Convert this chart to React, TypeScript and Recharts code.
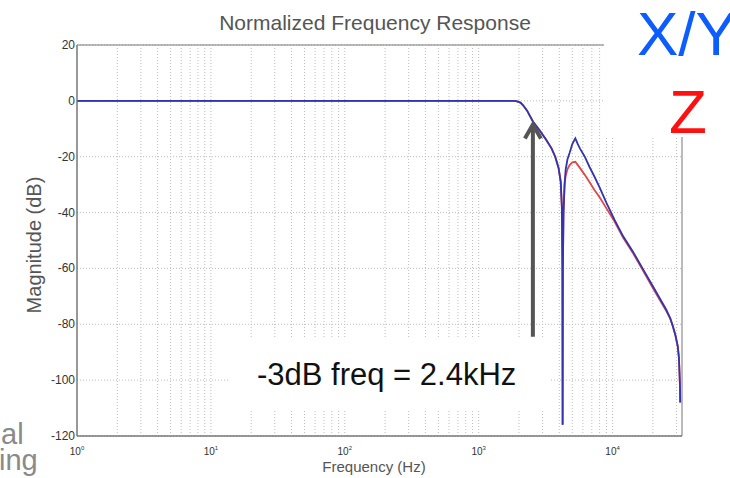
import React from "react";
import {
  LineChart,
  Line,
  XAxis,
  YAxis,
  CartesianGrid,
  ReferenceLine,
  ReferenceArea,
} from "recharts";

// frequency (Hz) sample points
const freqs = [
  1, 1800, 1910, 2050, 2140, 2300, 2540, 2850, 3200, 3500, 3730, 3950, 4100, 4180, 4220,
  4236, 4255, 4300, 4380, 4460, 4600, 4780, 5000, 5270, 5500, 5700, 6200, 6700, 7300, 8000,
  9000, 10350, 12000, 14200, 17000, 20000, 23000, 25200, 27000, 28200, 29500, 30700, 31300,
  31600, 31900, 32000,
];

// X/Y response (blue), dB
const xyMag = [
  0, 0, -0.1, -0.6, -1.5, -3.5, -7.4, -10.5, -14, -17, -20, -24, -29, -38, -60,
  -116, -60, -40, -30, -24.7, -21, -18.6, -15.5, -13.4, -15.5, -17, -20, -23.5, -27, -31,
  -36.5, -42.6, -48.5, -54, -60.5, -66.4, -71.5, -74.8, -78, -80.7, -84, -88, -92,
  -97, -103, -108,
];

// Z response (red), dB
const zMag = [
  0, 0, -0.1, -0.6, -1.5, -3.5, -7.4, -10.5, -14, -17, -20, -24, -29, -38, -60,
  -116, -60, -40, -30, -27, -24.5, -23, -22, -21.8, -23, -24, -26.5, -29, -31.8, -34.5,
  -38.5, -43.2, -49, -54.5, -61, -67, -72, -75.3, -78, -80.7, -84, -88, -92,
  -97, -103, -108,
];

const decadeTicks = [1, 10, 100, 1000, 10000];
const minorFreqs = [
  2, 3, 4, 5, 6, 7, 8, 9,
  20, 30, 40, 50, 60, 70, 80, 90,
  200, 300, 400, 500, 600, 700, 800, 900,
  2000, 3000, 4000, 5000, 6000, 7000, 8000, 9000,
  20000, 30000,
];
const magTicks = [20, 0, -20, -40, -60, -80, -100, -120];
const cutoffFreq = 2540;

const data = freqs.map((f, i) => ({ f, xy: xyMag[i], z: zMag[i] }));

const FONT = "'Liberation Sans', Arial, sans-serif";

const FreqTick = (props: any) => {
  const { x, y, payload } = props;
  const exp = Math.round(Math.log10(payload.value));
  return (
    <text x={x} y={y + 11} textAnchor="middle" fontSize={10} fill="#333" fontFamily={FONT}>
      10
      <tspan dy={-5} fontSize={6}>
        {exp}
      </tspan>
    </text>
  );
};

const MagTick = (props: any) => {
  const { x, y, payload } = props;
  return (
    <text x={x + 6} y={y + 4} textAnchor="end" fontSize={12} fill="#333" fontFamily={FONT}>
      {payload.value}
    </text>
  );
};

const Arrow = (props: any) => {
  const { x1, y1, x2, y2 } = props;
  return (
    <g>
      <line x1={x1} y1={y1} x2={x2} y2={y2 + 2} stroke="#555" strokeWidth={4} />
      <polyline
        points={`${x2 - 8},${y2 + 14} ${x2},${y2} ${x2 + 8},${y2 + 14}`}
        fill="none"
        stroke="#555"
        strokeWidth={4}
      />
    </g>
  );
};

export default function App() {
  return (
    <div style={{ position: "absolute", left: 0, top: 0, width: 730, height: 478, background: "#fff" }}>
      <LineChart
        width={730}
        height={478}
        data={data}
        margin={{ top: 45, right: 48, bottom: 12, left: 37 }}
      >
        <CartesianGrid stroke="#bdbdbd" strokeDasharray="1 2" vertical={false} />
        {decadeTicks.concat(minorFreqs).map((f) => (
          <ReferenceLine key={f} x={f} stroke="#bdbdbd" strokeDasharray="1 2" />
        ))}
        <XAxis
          dataKey="f"
          type="number"
          scale="log"
          domain={[1, 33000]}
          ticks={decadeTicks}
          tick={<FreqTick />}
          tickLine={false}
          axisLine={{ stroke: "#777" }}
          height={30}
          allowDataOverflow
        />
        <YAxis
          type="number"
          domain={[-120, 20]}
          ticks={magTicks}
          tick={<MagTick />}
          tickLine={false}
          axisLine={{ stroke: "#777" }}
          width={40}
          allowDataOverflow
        />
        <ReferenceArea x1={1} x2={33000} y1={-120} y2={20} fill="none" stroke="#777" />
        <Line
          type="linear"
          dataKey="z"
          stroke="#e04848"
          strokeWidth={1.8}
          dot={false}
          isAnimationActive={false}
        />
        <Line
          type="linear"
          dataKey="xy"
          stroke="#3434b0"
          strokeWidth={1.8}
          dot={false}
          isAnimationActive={false}
        />
        <ReferenceLine
          segment={[
            { x: cutoffFreq, y: -84.5 },
            { x: cutoffFreq, y: -8.5 },
          ]}
          shape={<Arrow />}
        />
      </LineChart>
      <svg
        width={730}
        height={478}
        style={{ position: "absolute", left: 0, top: 0, pointerEvents: "none" }}
        fontFamily={FONT}
      >
        <text x={375} y={30} textAnchor="middle" fontSize={21} fill="#555">
          Normalized Frequency Response
        </text>
        <text x={374} y={472} textAnchor="middle" fontSize={15} fill="#555">
          Frequency (Hz)
        </text>
        <text
          x={41}
          y={245}
          textAnchor="middle"
          fontSize={20}
          fill="#555"
          transform="rotate(-90 41 245)"
        >
          Magnitude (dB)
        </text>
        <rect x={604} y={0} width={126} height={137} fill="#fff" />
        <text x={637} y={55} fontSize={62} fill="#0d5cff">
          X/Y
        </text>
        <text x={669} y={133} fontSize={62} fill="#ff1010">
          Z
        </text>
        <rect x={230} y={337} width={320} height={73} fill="#fff" />
        <text x={257} y={385} fontSize={31} fill="#111">
          -3dB freq = 2.4kHz
        </text>
        <text x={1} y={444} fontSize={29} fill="#8a8a8a">
          al
        </text>
        <text x={-1} y={470} fontSize={29} fill="#8a8a8a">
          ing
        </text>
      </svg>
    </div>
  );
}
